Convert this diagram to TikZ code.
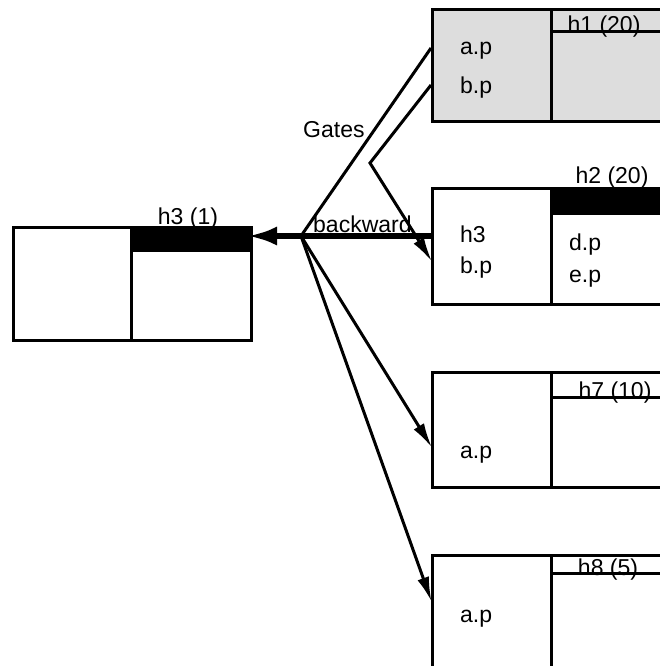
\documentclass[tikz,border=0pt]{standalone}
\usepackage{fontspec}
\setmainfont{Liberation Sans}
\usepackage{tikz}
\usetikzlibrary{arrows.meta,positioning,calc}
\definecolor{Ink}{HTML}{000000}
\definecolor{Shade}{HTML}{DDDDDD}

\begin{document}
\begin{tikzpicture}[x=1pt,y=-1pt,
  wall/.style={draw=Ink,line width=3pt},
  cell/.style={wall,anchor=north west,inner sep=0pt},
  tag/.style={anchor=base,inner sep=0pt,font=\fontsize{23}{27}\selectfont},
  txt/.style={anchor=base west,inner sep=0pt,font=\fontsize{23}{27}\selectfont},
  wire/.style={draw=Ink,line width=3pt,shorten >=-2pt,-{Latex[length=25pt,width=12pt]}},
  back/.style={draw=Ink,line width=6pt,shorten >=-6pt,-{Latex[length=30pt,width=19pt]}}]
  \useasboundingbox (0,0) rectangle (660,666);
  \clip (0,0) rectangle (660,666);

  % h1
  \node[cell,fill=Shade,minimum width=119pt,minimum height=112pt] (h1in) at (431,8) {};
  \node[cell,fill=Shade,minimum width=150pt,minimum height=112pt] (h1out) at (550,8) {};
  \draw[wall] (550,32) -- (700,32);
  \node[tag] (h1tag) at (604,33) {h1 (20)};
  \node[txt] (h1a) at (460,55) {a.p};
  \node[txt] (h1b) at (460,94) {b.p};

  % h2
  \node[cell,minimum width=119pt,minimum height=116pt] (h2in) at (431,187) {};
  \node[cell,minimum width=150pt,minimum height=116pt] (h2out) at (550,187) {};
  \fill[Ink] (550,187) rectangle (700,215);
  \node[tag] (h2tag) at (612,183) {h2 (20)};
  \node[txt] (h2h) at (460,242) {h3};
  \node[txt] (h2b) at (460,273) {b.p};
  \node[txt] (h2d) at (569,250) {d.p};
  \node[txt] (h2e) at (569,282) {e.p};

  % h7
  \node[cell,minimum width=119pt,minimum height=115pt] (h7in) at (431,371) {};
  \node[cell,minimum width=150pt,minimum height=115pt] (h7out) at (550,371) {};
  \draw[wall] (550,397) -- (700,397);
  \node[tag] (h7tag) at (615,398) {h7 (10)};
  \node[txt] (h7a) at (460,458) {a.p};

  % h8
  \node[cell,minimum width=119pt,minimum height=130pt] (h8in) at (431,554) {};
  \node[cell,minimum width=150pt,minimum height=130pt] (h8out) at (550,554) {};
  \draw[wall] (550,573) -- (700,573);
  \node[tag] (h8tag) at (608,575) {h8 (5)};
  \node[txt] (h8a) at (460,622) {a.p};

  % h3
  \node[cell,minimum width=118pt,minimum height=113pt] (h3l) at (12,226) {};
  \node[cell,minimum width=120pt,minimum height=113pt] (h3r) at (130,226) {};
  \fill[Ink] (130,226) rectangle (250,252);
  \node[tag] (h3tag) at (188,224) {h3 (1)};

  % gates
  \coordinate (hub) at (301,236);
  \coordinate (bend) at (370,163);
  \node[txt] (gates) at (303,137) {Gates};
  \node[txt] (backlbl) at (313,232) {backward};

  \draw[wire,-] ([yshift=-40pt]h1in.north west) -- (hub);
  \draw[wire] ([yshift=-77pt]h1in.north west) -- (bend) -- ([yshift=-73pt]h2in.north west);
  \draw[back] (h2in.west |- hub) -- (h3r.east |- hub);
  \draw[wire] (hub) -- ([yshift=-75pt]h7in.north west);
  \draw[wire] (hub) -- ([yshift=-46pt]h8in.north west);
\end{tikzpicture}
\end{document}
